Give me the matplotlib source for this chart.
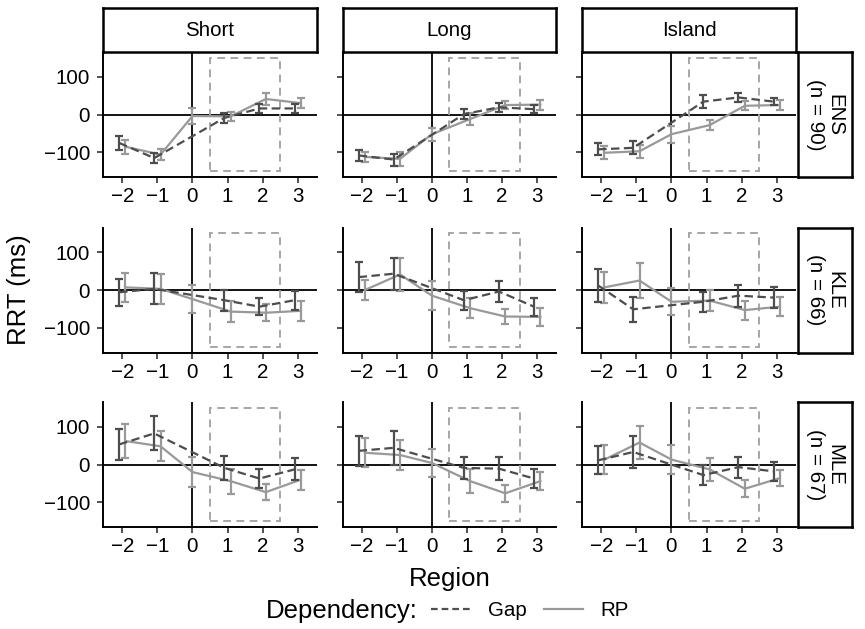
import matplotlib
matplotlib.use("Agg")
import matplotlib.pyplot as plt
from matplotlib.lines import Line2D
from matplotlib.patches import Rectangle

plt.rcParams['font.family'] = ['Liberation Sans', 'DejaVu Sans']

# data (RRT in ms, mean and error-bar half width)
conditions = ['Short', 'Long', 'Island']
languages = ['ENS\n(n = 90)', 'KLE\n(n = 66)', 'MLE\n(n = 67)']
regions_gap = [-2, -1, 1, 2, 3]
regions_rp = [-2, -1, 0, 1, 2, 3]
xticks = [-2, -1, 0, 1, 2, 3]
yticks = [-100, 0, 100]

ens_gap = [[-75, -115, -9, 16, 16], [-108, -119, 1, 19, 14], [-92, -88, 34, 45, 34]]
ens_gap_se = [[19, 13, 14, 12, 11], [15, 16, 13, 12, 10], [16, 17, 17, 13, 9]]
ens_rp = [[-85, -106, -4, -5, 41, 30], [-112, -117, -52, -12, 25, 26], [-101, -97, -52, -28, 23, 25]]
ens_rp_se = [[18, 15, 22, 12, 15, 13], [13, 18, 17, 15, 11, 13], [17, 17, 22, 13, 12, 13]]

kle_gap = [[-6, 3, -27, -44, -27], [34, 43, -27, -4, -44], [12, -51, -31, -15, -20]]
kle_gap_se = [[36, 41, 28, 22, 25], [39, 42, 25, 27, 24], [44, 33, 27, 29, 28]]
kle_rp = [[7, 3, -24, -57, -60, -55], [0, 41, -15, -48, -70, -71], [7, 25, -31, -28, -53, -44]]
kle_rp_se = [[38, 40, 38, 27, 23, 26], [27, 44, 39, 26, 19, 24], [40, 46, 36, 28, 25, 25]]

mle_gap = [[53, 82, -9, -37, -13], [36, 44, -9, -11, -37], [11, 33, -28, -7, -18]]
mle_gap_se = [[41, 45, 32, 24, 29], [39, 45, 30, 30, 25], [37, 41, 27, 28, 25]]
mle_rp = [[62, 48, -20, -44, -73, -40], [31, 25, 4, -44, -76, -44], [13, 58, 13, -13, -64, -36]]
mle_rp_se = [[44, 40, 40, 33, 22, 26], [38, 39, 38, 32, 22, 24], [39, 44, 39, 31, 22, 22]]

gap_means = [ens_gap, kle_gap, mle_gap]
gap_ses = [ens_gap_se, kle_gap_se, mle_gap_se]
rp_means = [ens_rp, kle_rp, mle_rp]
rp_ses = [ens_rp_se, kle_rp_se, mle_rp_se]

GAP_COL = '#4d4d4d'
RP_COL = '#999999'
BOX_COL = '#a6a6a6'
W, H = 865, 629
DODGE = 0.09
SMALL = 14.8
BIG = 18.5

fig = plt.figure(figsize=(W / 100, H / 100), dpi=100)


def px_axes(left, top, width, height):
    return fig.add_axes([left / W, 1 - (top + height) / H, width / W, height / H])


col_left = [103, 342.5, 582]
row_top = [52, 227.5, 402]
pw, ph = 214, 125

for r in range(3):
    for c in range(3):
        ax = px_axes(col_left[c], row_top[r], pw, ph)
        ax.set_xlim(-2.55, 3.55)
        ax.set_ylim(-165, 165)
        ax.axhline(0, color='black', lw=1.3, zorder=1)
        ax.axvline(0, color='black', lw=1.3, zorder=1)
        ax.add_patch(Rectangle((0.5, -150), 2, 300, fill=False, ec=BOX_COL,
                               lw=1.4, ls=(0, (4, 2.8)), zorder=1))

        # single RP group at region 0 is centred, like ggplot's dodge
        xg = [x - DODGE for x in regions_gap]
        xr = [x + DODGE if x != 0 else x for x in regions_rp]
        ax.errorbar(xg, gap_means[r][c], yerr=gap_ses[r][c], color=GAP_COL,
                    lw=1.6, ls=(0, (3.8, 2.0)), elinewidth=1.6, capsize=2.6,
                    capthick=1.6, zorder=3)
        ax.errorbar(xr, rp_means[r][c], yerr=rp_ses[r][c], color=RP_COL,
                    lw=1.6, elinewidth=1.6, capsize=2.6, capthick=1.6, zorder=2)

        for s in ['top', 'right']:
            ax.spines[s].set_visible(False)
        for s in ['left', 'bottom']:
            ax.spines[s].set_linewidth(1.4)
        ax.set_xticks(xticks)
        ax.set_yticks(yticks)
        ax.tick_params(length=4.3, width=1.2, color='#333333', labelsize=SMALL,
                       labelcolor='black')
        ax.tick_params(axis='y', pad=5)
        ax.tick_params(axis='x', pad=3)
        if c > 0:
            ax.set_yticklabels([])

# top strips
for c in range(3):
    sax = px_axes(col_left[c], 8, pw, 44)
    sax.set_xticks([])
    sax.set_yticks([])
    for s in sax.spines.values():
        s.set_linewidth(1.8)
    sax.text(0.5, 0.5, conditions[c], ha='center', va='center', fontsize=SMALL,
             transform=sax.transAxes)

# right strips
for r in range(3):
    sax = px_axes(798, row_top[r], 54, ph)
    sax.set_xticks([])
    sax.set_yticks([])
    for s in sax.spines.values():
        s.set_linewidth(1.8)
    sax.text(0.5, 0.5, languages[r], ha='center', va='center', fontsize=SMALL,
             rotation=270, linespacing=1.0, transform=sax.transAxes)

fig.text(19 / W, 1 - 290 / H, 'RRT (ms)', rotation=90, ha='center', va='center',
         fontsize=BIG)
fig.text(449.5 / W, 1 - 579 / H, 'Region', ha='center', va='center', fontsize=BIG)

handles = [Line2D([], [], color=GAP_COL, lw=1.6, ls=(0, (3, 1.8))),
           Line2D([], [], color=RP_COL, lw=1.6)]
fig.text(266 / W, 1 - 611 / H, 'Dependency:', ha='left', va='center', fontsize=BIG)
fig.legend(handles, ['Gap', 'RP'], loc='center left', ncol=2, frameon=False,
           bbox_to_anchor=(431 / W, 1 - 611 / H), fontsize=SMALL, handlelength=1.9,
           handletextpad=0.85, columnspacing=0.85, borderaxespad=0, borderpad=0)

fig.savefig('out.png', dpi=100)
